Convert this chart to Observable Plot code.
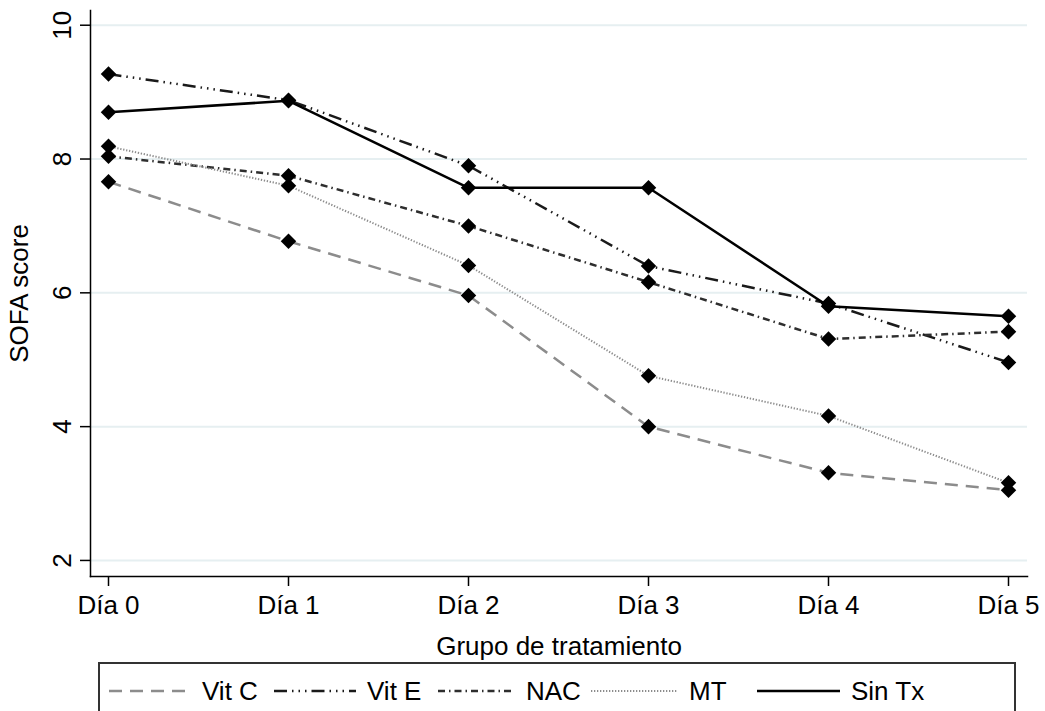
<!DOCTYPE html>
<html><head><meta charset="utf-8">
<script src="https://cdn.jsdelivr.net/npm/d3@7"></script>
<script src="https://cdn.jsdelivr.net/npm/@observablehq/plot@0.6"></script>
<style>
body{margin:0;background:#fff;font-family:"Liberation Sans",Arial,sans-serif;}
#wrap{position:relative;width:1045px;height:711px;overflow:hidden;background:#fff;}
#legend{position:absolute;left:98px;top:662px;width:918px;height:70px;border:2px solid #333;box-sizing:border-box;}
#legend svg{position:absolute;left:-2px;top:-2px;}
</style></head><body><div id="wrap"><div id="chart"></div><div id="legend"></div></div>
<script>
const days = ["Día 0", "Día 1", "Día 2", "Día 3", "Día 4", "Día 5"];
const seriesNames = ["Vit C", "Vit E", "NAC", "MT", "Sin Tx"];
const vitC  = [7.66, 6.77, 5.96, 4.00, 3.31, 3.05];
const vitE  = [9.27, 8.88, 7.90, 6.40, 5.84, 4.96];
const nac   = [8.04, 7.75, 7.00, 6.16, 5.31, 5.42];
const mt    = [8.19, 7.60, 6.41, 4.76, 4.16, 3.16];
const sinTx = [8.70, 8.87, 7.57, 7.57, 5.80, 5.65];
const yTicks = [2, 4, 6, 8, 10];

const values = [vitC, vitE, nac, mt, sinTx];
const strokeColors = ["#8c8c8c", "#1a1a1a", "#2e2e2e", "#8c8c8c", "#000000"];
const dashes = ["13,8", "13,5,1.5,5,1.5,5,1.5,5", "7,4,1.5,4", "1.3,1.7", null];
const widths = [2.5, 2.5, 2.5, 2, 2.5];

const rows = [];
seriesNames.forEach((s, i) => days.forEach((d, j) => rows.push({series: s, day: d, value: values[i][j]})));

const marks = [
  Plot.gridY(yTicks, {stroke: "#e6eff1", strokeOpacity: 1, strokeWidth: 2})
];
seriesNames.forEach((s, i) => {
  marks.push(Plot.line(rows.filter(r => r.series === s), {
    x: "day", y: "value", stroke: strokeColors[i], strokeWidth: widths[i],
    strokeDasharray: dashes[i] || undefined, strokeLinejoin: "round", strokeLinecap: "butt"
  }));
});
marks.push(Plot.dot(rows, {x: "day", y: "value", symbol: "diamond2", r: 7, fill: "black", stroke: "none"}));
marks.push(Plot.frame({anchor: "left", stroke: "#000", strokeWidth: 1.5}));
marks.push(Plot.frame({anchor: "bottom", stroke: "#000", strokeWidth: 1.5}));
marks.push(Plot.axisY(yTicks, {
  tickSize: 10, tickRotate: -90, tickPadding: 10, strokeWidth: 1.5, fontSize: 26,
  tickFormat: d => String(d),
  label: "SOFA score", labelAnchor: "center", labelOffset: 81, labelArrow: "none"
}));
marks.push(Plot.axisX({
  tickSize: 10, tickPadding: 9, strokeWidth: 1.5, fontSize: 26,
  label: "Grupo de tratamiento", labelAnchor: "center", labelOffset: 78, labelArrow: "none"
}));

const chart = Plot.plot({
  width: 1045, height: 660,
  marginTop: 10, marginBottom: 84, marginLeft: 90, marginRight: 18,
  style: {fontSize: "26px", fontFamily: "'Liberation Sans', Arial, sans-serif", color: "#000", background: "#fff"},
  x: {type: "point", domain: days, range: [106, 1009], padding: 0},
  y: {domain: [1.76, 10.22]},
  marks
});
document.getElementById("chart").appendChild(chart);

// legend
const legendX = [11, 176, 340, 493, 659];
const legendLen = [82, 82, 77, 87, 83];
const legendGap = 11;
const lg = d3.select("#legend").append("svg").attr("width", 922).attr("height", 74)
  .style("font-family", "'Liberation Sans', Arial, sans-serif").style("font-size", "26px");
seriesNames.forEach((s, i) => {
  lg.append("line").attr("x1", legendX[i]).attr("x2", legendX[i] + legendLen[i])
    .attr("y1", 29).attr("y2", 29)
    .attr("stroke", strokeColors[i]).attr("stroke-width", widths[i])
    .attr("stroke-dasharray", dashes[i]);
  lg.append("text").attr("x", legendX[i] + legendLen[i] + legendGap).attr("y", 29)
    .attr("dy", "0.36em").text(s);
});
</script></body></html>
